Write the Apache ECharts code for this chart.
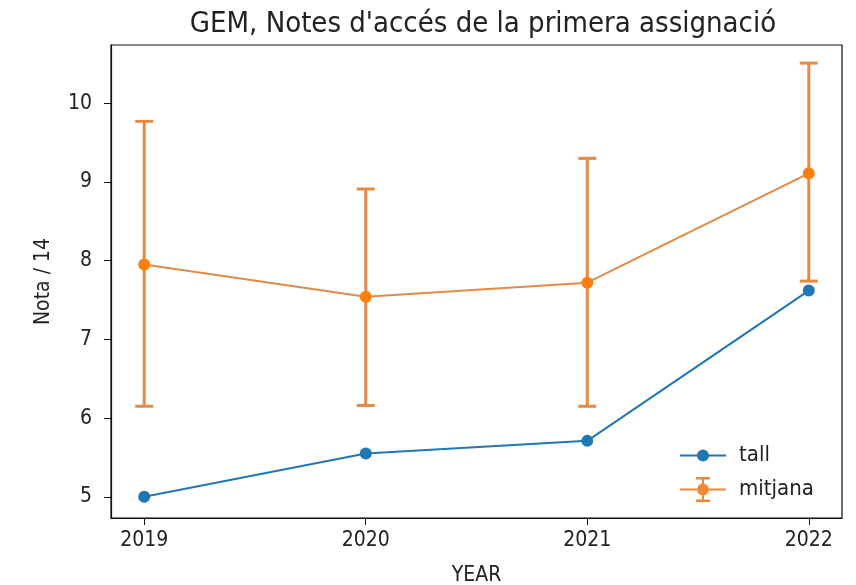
<!DOCTYPE html>
<html>
<head>
<meta charset="utf-8">
<script src="https://cdn.jsdelivr.net/npm/echarts@6/dist/echarts.min.js"></script>
<style>
  html, body { margin: 0; padding: 0; background: #fff; }
  #chart { width: 856px; height: 585px; }
</style>
</head>
<body>
<div id="chart"></div>
<script>
// dades llegides del gràfic
var years = [2019, 2020, 2021, 2022];
var tall = [5.0, 5.55, 5.71, 7.62];
var mitjana = [7.95, 7.54, 7.72, 9.11];
var errLow = [6.15, 6.16, 6.15, 7.74];
var errHigh = [9.77, 8.91, 9.30, 10.51];
var yTicks = [5, 6, 7, 8, 9, 10];

var FONT = "'DejaVu Sans Condensed', 'DejaVu Sans', sans-serif";
var BLUE = '#1f77b4';
var ORANGE = '#ff7f0e';

// icones de llegenda: línia + punt, i línia + barra d'error + punt
var dotPath = 'M0,11.5V13.5H46V11.5Z M17,12.5a6,6 0 1,0 12,0a6,6 0 1,0 -12,0Z';
var lineIcon = 'path://M0,0V0.01H0.01Z M46,25V24.99H45.99Z ' + dotPath;
var errIcon = 'path://M22,2V23H24V2Z M16,0V2.5H30V0Z M16,22.5V25H30V22.5Z ' + dotPath;

var chart = echarts.init(document.getElementById('chart'));

chart.setOption({
  animation: false,
  backgroundColor: '#fff',
  textStyle: { fontFamily: FONT, color: '#222' },
  title: {
    text: "GEM, Notes d'accés de la primera assignació",
    left: 478,
    textAlign: 'center',
    top: 5,
    textStyle: { fontFamily: FONT, fontSize: 29, fontWeight: 'normal', color: '#222' }
  },
  grid: {
    left: 111, right: 14, top: 45, bottom: 67,
    outerBoundsMode: 'none',
    containLabel: false,
    show: true, borderColor: '#111', borderWidth: 1.2
  },
  legend: {
    orient: 'vertical',
    left: 675, top: 438,
    itemWidth: 46, itemHeight: 25, itemGap: 9,
    data: [
      { name: 'tall', icon: lineIcon, itemStyle: { color: BLUE } },
      { name: 'mitjana', icon: errIcon, itemStyle: { color: '#ef8a3a' } }
    ],
    textStyle: { fontFamily: FONT, fontSize: 22, color: '#222', padding: [0, 0, 0, 8] }
  },
  xAxis: {
    type: 'value',
    min: 2018.85, max: 2022.15,
    name: 'YEAR',
    nameLocation: 'middle',
    nameGap: 47,
    nameTextStyle: { fontFamily: FONT, fontSize: 21, color: '#222' },
    axisLine: { show: true, lineStyle: { color: '#111', width: 1.2 } },
    axisTick: { show: true, length: 7, lineStyle: { color: '#111' }, customValues: years },
    axisLabel: { fontFamily: FONT, fontSize: 21, color: '#222', margin: 12, customValues: years, formatter: function (v) { return String(v); } },
    splitLine: { show: false }
  },
  yAxis: {
    type: 'value',
    min: 4.73, max: 10.74,
    name: 'Nota / 14',
    nameLocation: 'middle',
    nameGap: 57,
    nameRotate: 90,
    nameTextStyle: { fontFamily: FONT, fontSize: 21, color: '#222' },
    axisLine: { show: true, lineStyle: { color: '#111', width: 1.2 } },
    axisTick: { show: true, length: 7, lineStyle: { color: '#111' }, customValues: yTicks },
    axisLabel: { fontFamily: FONT, fontSize: 21, color: '#222', margin: 19, customValues: yTicks },
    splitLine: { show: false }
  },
  series: [
    {
      name: 'tall',
      type: 'line',
      data: years.map(function (y, i) { return [y, tall[i]]; }),
      symbol: 'circle',
      symbolSize: 12,
      lineStyle: { color: BLUE, width: 2 },
      itemStyle: { color: BLUE },
      z: 2
    },
    {
      name: 'barres',
      type: 'custom',
      data: years.map(function (y, i) { return [y, errLow[i], errHigh[i]]; }),
      renderItem: function (params, api) {
        var lo = api.coord([api.value(0), api.value(1)]);
        var hi = api.coord([api.value(0), api.value(2)]);
        var cw = 9;
        var style = { stroke: '#e48a45', lineWidth: 3 };
        return {
          type: 'group',
          children: [
            { type: 'line', shape: { x1: lo[0], y1: lo[1], x2: hi[0], y2: hi[1] }, style: style },
            { type: 'line', shape: { x1: lo[0] - cw, y1: lo[1], x2: lo[0] + cw, y2: lo[1] }, style: style },
            { type: 'line', shape: { x1: hi[0] - cw, y1: hi[1], x2: hi[0] + cw, y2: hi[1] }, style: style }
          ]
        };
      },
      z: 3
    },
    {
      name: 'mitjana',
      type: 'line',
      data: years.map(function (y, i) { return [y, mitjana[i]]; }),
      symbol: 'circle',
      symbolSize: 12,
      lineStyle: { color: '#e48a45', width: 2 },
      itemStyle: { color: ORANGE },
      z: 4
    }
  ]
});
</script>
</body>
</html>
